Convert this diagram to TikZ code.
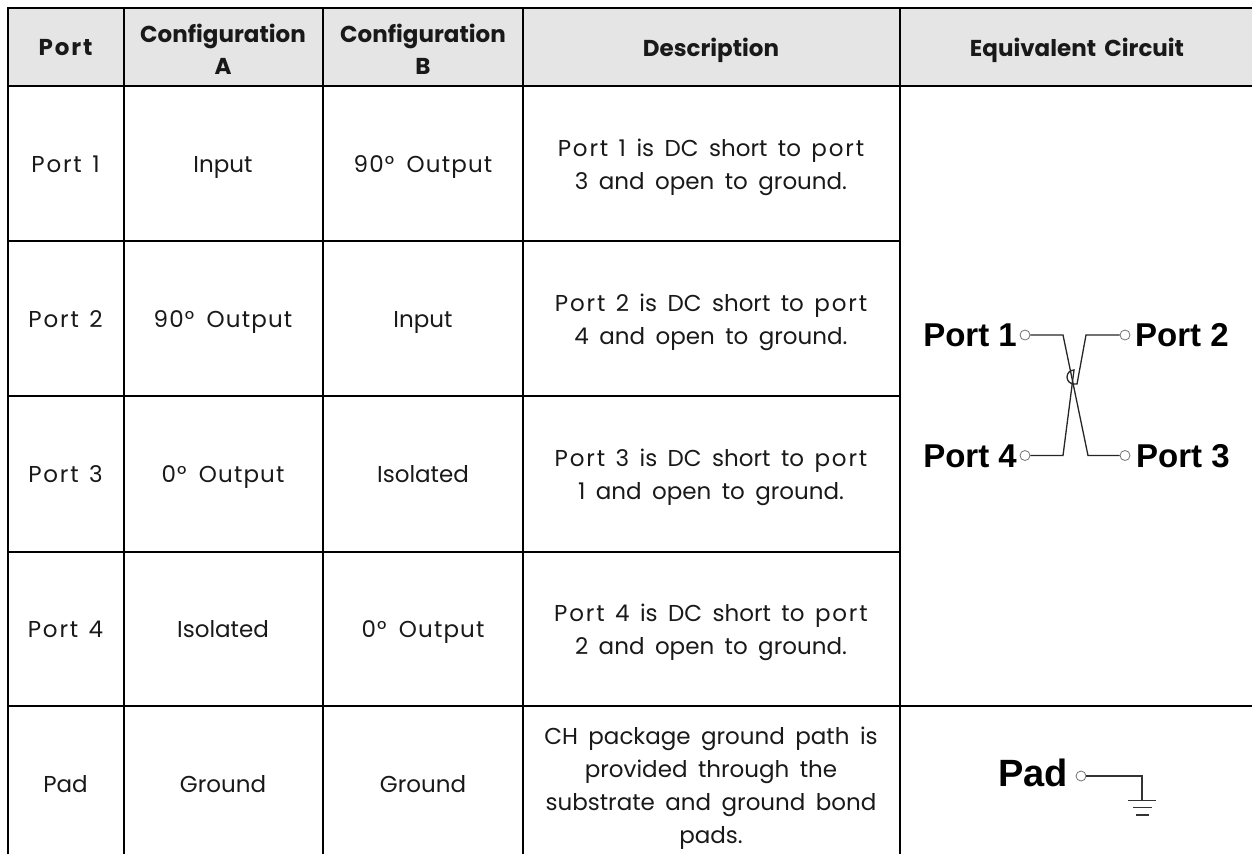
\documentclass[tikz,border=0pt]{standalone}
\usepackage{fontspec}
\setmainfont{Poppins}[WordSpace=1.7]
\newfontfamily\labelfont{Liberation Sans}
\newcommand{\wideword}[1]{{\addfontfeature{LetterSpace=8}#1}}
\newcommand{\spread}[1]{{\addfontfeature{LetterSpace=5}#1}}
\tikzset{x=1pt,y=-1pt,
 grid/.style={line width=2pt,black},
 cell/.style={anchor=base,font=\fontsize{23}{33}\selectfont,text=black!90,inner sep=0pt},
 desc/.style={align=center,font=\fontsize{23}{33}\selectfont,text=black!90,inner sep=0pt},
 head/.style={anchor=base,font=\fontsize{23}{32}\selectfont\bfseries,text=black!90,inner sep=0pt},
 headtwo/.style={align=center,font=\fontsize{23}{32}\selectfont\bfseries,text=black!90,inner sep=0pt},
 wire/.style={line width=1.3pt,black!85},
 padwire/.style={line width=1.6pt,black!80},
 term/.style={circle,draw=black!55,fill=white,line width=.8pt,minimum size=10pt,inner sep=0pt},
 plabel/.style={font=\labelfont\fontsize{33}{33}\selectfont\bfseries,inner sep=0pt}}
\begin{document}
\begin{tikzpicture}
\useasboundingbox (0,0) rectangle (1252,854);
\fill[black!10] (8,8) rectangle (1252,86);
\draw[grid] (8,854) -- (8,8) -- (1252,8);
\draw[grid] (8,86) -- (1252,86);
\draw[grid] (8,241) -- (900,241);
\draw[grid] (8,396) -- (900,396);
\draw[grid] (8,552) -- (900,552);
\draw[grid] (8,706) -- (1252,706);
\foreach \x in {124,323,523,900} \draw[grid] (\x,8) -- (\x,854);
\node[head] (h1) at (65.5,55) {\wideword{Port}};
\node[headtwo] (h2) at (223,49) {Configuration\\A};
\node[headtwo] (h3) at (423,49) {Configuration\\B};
\node[head] (h4) at (711,56) {Description};
\node[head] (h5) at (1077,56) {Equivalent Circuit};
\node[cell] (a1) at (65.5,172.7) {\wideword{Port} 1};
\node[cell] (b1) at (223,172.7) {Input};
\node[cell] (c1) at (423,172.7) {\spread{90° Output}};
\node[desc] (d1) at (711,167) {\wideword{Port} 1 is DC short to \wideword{port}\\3 and open to ground.};
\node[cell] (a2) at (65.5,327.5) {\wideword{Port} 2};
\node[cell] (b2) at (223,327.5) {\spread{90° Output}};
\node[cell] (c2) at (423,327.5) {Input};
\node[desc] (d2) at (711,322) {\wideword{Port} 2 is DC short to \wideword{port}\\4 and open to ground.};
\node[cell] (a3) at (65.5,482.7) {\wideword{Port} 3};
\node[cell] (b3) at (223,482.7) {\spread{0° Output}};
\node[cell] (c3) at (423,482.7) {Isolated};
\node[desc] (d3) at (711,477) {\wideword{Port} 3 is DC short to \wideword{port}\\1 and open to ground.};
\node[cell] (a4) at (65.5,637) {\wideword{Port} 4};
\node[cell] (b4) at (223,637) {Isolated};
\node[cell] (c4) at (423,637) {\spread{0° Output}};
\node[desc] (d4) at (711,632) {\wideword{Port} 4 is DC short to \wideword{port}\\2 and open to ground.};
\node[cell] (a5) at (65.5,792) {Pad};
\node[cell] (b5) at (223,792) {Ground};
\node[cell] (c5) at (423,792) {Ground};
\node[desc] (d5) at (711,788) {CH package ground path is\\provided through the\\substrate and ground bond\\pads.};
% circuit
\node[plabel,anchor=east] (lp1) at (1017,335) {Port 1};
\node[plabel,anchor=west] (lp2) at (1135,335) {Port 2};
\node[plabel,anchor=east] (lp4) at (1017,456) {Port 4};
\node[plabel,anchor=west] (lp3) at (1136,456) {Port 3};
\node[term] (t1) at (1025,335) {};
\node[term] (t2) at (1125,335) {};
\node[term] (t3) at (1125,455.5) {};
\node[term] (t4) at (1025,455.5) {};
\draw[wire] (t1) -- (1063,335) -- (1088,455.5) -- (t3);
\draw[wire] (t2) -- (1086,335) -- (1077,384) -- (1074,384) arc (90:270:7) -- (1063,455.5) -- (t4);
\node[font=\labelfont\fontsize{38}{38}\selectfont\bfseries,anchor=east,inner sep=0pt] (lpad) at (1068,773) {Pad};
\node[term] (tp) at (1081,776) {};
\coordinate (g) at (1142,800.5);
\draw[padwire] (tp) -- (1142,776) -- (g);
\draw[padwire] (1128,800.5) -- (1156,800.5);
\draw[padwire] (1133,807.5) -- (1152,807.5);
\draw[padwire] (1136,815) -- (1149,815);
\end{tikzpicture}
\end{document}
